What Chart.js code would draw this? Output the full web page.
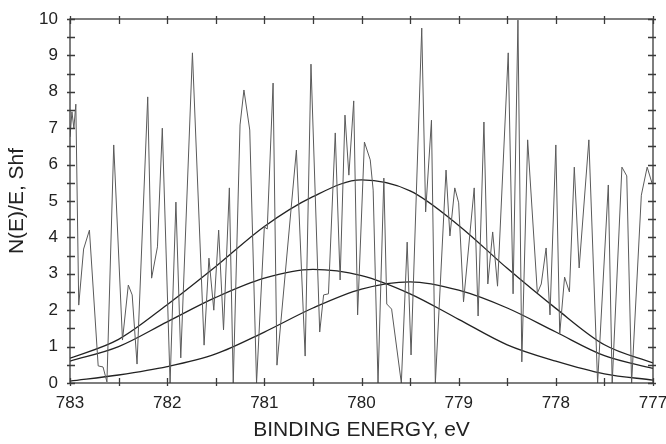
<!DOCTYPE html>
<html>
<head>
<meta charset="utf-8">
<script src="https://cdn.jsdelivr.net/npm/chart.js@4.4.1/dist/chart.umd.min.js"></script>
<style>
  html, body { margin: 0; padding: 0; background: #fff; }
  #wrap { width: 666px; height: 444px; }
</style>
</head>
<body>
<div id="wrap"><canvas id="xps" width="666" height="444"></canvas></div>
<script>
// Raw spectrum (binding energy, eV / counts)
const rawEnergy = [
    783.00, 782.98, 782.96, 782.94, 782.91, 782.86, 782.80, 782.71, 782.66, 782.62,
    782.55, 782.46, 782.40, 782.36, 782.31, 782.20, 782.16, 782.10, 782.05, 781.97,
    781.91, 781.86, 781.74, 781.62, 781.57, 781.52, 781.47, 781.42, 781.36, 781.32,
    781.25, 781.21, 781.15, 781.08, 781.00, 780.97, 780.91, 780.87, 780.67, 780.58,
    780.52, 780.43, 780.39, 780.34, 780.27, 780.22, 780.17, 780.13, 780.08, 780.04,
    779.97, 779.91, 779.88, 779.83, 779.77, 779.74, 779.69, 779.59, 779.53, 779.49,
    779.38, 779.34, 779.28, 779.24, 779.13, 779.09, 779.04, 779.00, 778.95, 778.84,
    778.80, 778.74, 778.70, 778.65, 778.60, 778.49, 778.44, 778.39, 778.35, 778.29,
    778.19, 778.15, 778.10, 778.06, 778.00, 777.96, 777.91, 777.86, 777.81, 777.76,
    777.66, 777.57, 777.46, 777.42, 777.32, 777.27, 777.22, 777.12, 777.06, 777.01
];
const rawIntensity = [
    6.76, 7.45, 7.00, 7.66, 2.14, 3.68, 4.20, 0.47, 0.44, 0.03,
    6.54, 1.18, 2.69, 2.42, 0.52, 7.86, 2.88, 3.74, 7.00, 0.00,
    4.97, 0.69, 9.07, 1.04, 3.43, 2.00, 4.20, 1.46, 5.36, 0.00,
    7.09, 8.05, 6.95, 0.00, 4.29, 4.23, 8.24, 0.49, 6.40, 0.74,
    8.76, 1.40, 2.42, 2.45, 6.87, 2.83, 7.36, 5.71, 7.75, 1.87,
    6.62, 6.13, 5.30, 0.00, 5.63, 2.17, 2.03, 0.00, 3.87, 0.77,
    9.75, 4.70, 7.22, 0.00, 5.85, 4.04, 5.36, 4.95, 2.23, 5.36,
    1.84, 7.17, 2.72, 4.15, 2.66, 9.07, 2.45, 9.97, 0.58, 6.68,
    2.47, 2.72, 3.71, 1.87, 6.54, 1.35, 2.91, 2.50, 5.93, 3.16,
    6.68, 0.00, 5.44, 0.00, 5.93, 5.69, 0.00, 5.16, 5.93, 5.49
];

// Fitted components, read every 0.5 eV
const fitEnergy = [783, 782.5, 782, 781.5, 781, 780.5, 780, 779.5, 779, 778.5, 778, 777.5, 777];
const envelope  = [0.68, 1.20, 2.15, 3.20, 4.30, 5.12, 5.58, 5.28, 4.33, 3.15, 2.05, 1.05, 0.55];
const peakLow   = [0.60, 1.00, 1.68, 2.35, 2.88, 3.12, 2.95, 2.45, 1.75, 1.05, 0.60, 0.25, 0.08];
const peakHigh  = [0.05, 0.22, 0.45, 0.80, 1.40, 2.06, 2.58, 2.78, 2.55, 2.06, 1.40, 0.75, 0.40];

const xMin = 777, xMax = 783, xStep = 0.5;
const yMin = 0, yMax = 10, yStep = 0.5;

const toPoints = (xs, ys) => xs.map((x, i) => ({ x: x, y: ys[i] }));

// ticks that cross the frame on all four sides
const frameTicks = {
    id: 'frameTicks',
    afterDraw(chart) {
        const { ctx, chartArea: a, scales } = chart;
        ctx.save();
        ctx.strokeStyle = '#3a3a3a';
        ctx.lineWidth = 1.3;
        ctx.strokeRect(a.left, a.top, a.right - a.left, a.bottom - a.top);
        ctx.beginPath();
        scales.x.ticks.forEach(t => {
            const px = Math.round(scales.x.getPixelForValue(t.value)) + 0.5;
            ctx.moveTo(px, a.bottom - 5); ctx.lineTo(px, a.bottom + 3);
            ctx.moveTo(px, a.top - 3); ctx.lineTo(px, a.top + 5);
        });
        scales.y.ticks.forEach(t => {
            const py = Math.round(scales.y.getPixelForValue(t.value)) + 0.5;
            ctx.moveTo(a.left - 3, py); ctx.lineTo(a.left + 5, py);
            ctx.moveTo(a.right - 5, py); ctx.lineTo(a.right + 3, py);
        });
        ctx.stroke();
        ctx.restore();
    }
};

Chart.defaults.font.family = '"Liberation Sans", Arial, sans-serif';
Chart.defaults.color = '#222';

new Chart(document.getElementById('xps'), {
    type: 'line',
    data: {
        datasets: [
            { data: toPoints(rawEnergy, rawIntensity), borderColor: '#5a5a5a', borderWidth: 1, tension: 0 },
            { data: toPoints(fitEnergy, envelope), borderColor: '#222', borderWidth: 1.3, cubicInterpolationMode: 'monotone' },
            { data: toPoints(fitEnergy, peakLow), borderColor: '#222', borderWidth: 1.3, cubicInterpolationMode: 'monotone' },
            { data: toPoints(fitEnergy, peakHigh), borderColor: '#222', borderWidth: 1.3, cubicInterpolationMode: 'monotone' }
        ]
    },
    options: {
        responsive: false,
        animation: false,
        devicePixelRatio: 1,
        layout: { padding: { top: 19, right: 13, left: 0, bottom: 0 } },
        elements: { point: { radius: 0 }, line: { fill: false } },
        plugins: { legend: { display: false }, tooltip: { enabled: false } },
        scales: {
            x: {
                type: 'linear',
                reverse: true,
                min: xMin, max: xMax,
                grid: { display: false, drawTicks: false },
                border: { display: false },
                ticks: {
                    stepSize: xStep, autoSkip: false, maxRotation: 0, padding: 10,
                    font: { size: 17 },
                    callback: v => Number.isInteger(v) ? String(v) : ''
                },
                title: { display: true, text: 'BINDING ENERGY, eV', font: { size: 21 }, padding: { top: 0, bottom: 1 } },
                afterFit: s => { s.height = 61; s.paddingLeft = 0; s.paddingRight = 0; }
            },
            y: {
                min: yMin, max: yMax,
                grid: { display: false, drawTicks: false },
                border: { display: false },
                ticks: {
                    stepSize: yStep, autoSkip: false, padding: 12,
                    font: { size: 17 },
                    callback: v => Number.isInteger(v) ? String(v) : ''
                },
                title: { display: true, text: 'N(E)/E, Shf', font: { size: 21 }, padding: { top: 5, bottom: 0 } },
                afterFit: s => { s.width = 70; s.paddingTop = 0; s.paddingBottom = 0; }
            }
        }
    },
    plugins: [frameTicks]
});
</script>
</body>
</html>
